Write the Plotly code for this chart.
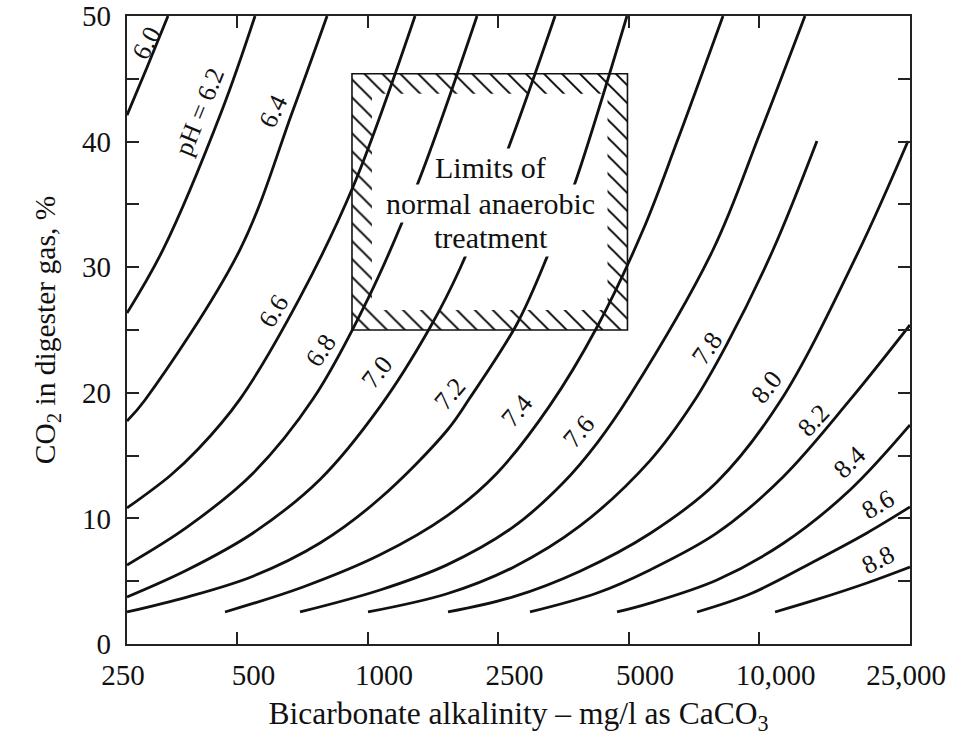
import plotly.graph_objects as go

# ---------------- data ----------------
# x values are positions along the alkalinity axis in tick units
# (tick marks at 1..5 = 500, 1000, 2500, 5000, 10,000 mg/l)
alk_tick_labels = ["250", "500", "1000", "2500", "5000", "10,000", "25,000"]
alk_label_pos = [0.157, 1.157, 2.157, 3.157, 4.157, 5.157, 6.157]
alk_tick_pos = [1, 2, 3, 4, 5]
co2_tick_marks = [0, 5, 10, 15, 20, 25, 30, 35, 40, 45, 50]
co2_tick_labels = [0, 10, 20, 30, 40, 50]

ph_values = ["6.0", "6.2", "6.4", "6.6", "6.8", "7.0", "7.2", "7.4",
             "7.6", "7.8", "8.0", "8.2", "8.4", "8.6", "8.8"]

alk_60 = [0.157, 0.310, 0.471]
co2_60 = [42.1, 45.9, 50.0]
alk_62 = [0.157, 0.433, 0.885, 1.138]
co2_62 = [26.35, 31.4, 42.5, 50.0]
alk_64 = [0.157, 0.295, 1.023, 1.429, 1.690]
co2_64 = [17.75, 19.43, 31.4, 42.5, 50.0]
alk_66 = [0.157, 0.487, 0.701, 1.023, 1.483, 1.889, 2.364]
co2_66 = [10.83, 13.4, 15.5, 19.5, 27.6, 36.4, 50.0]
alk_68 = [0.157, 0.617, 1.123, 1.582, 2.004, 2.379, 2.839]
co2_68 = [6.29, 9.3, 13.6, 19.5, 27.5, 36.5, 50.0]
alk_70 = [0.157, 0.617, 1.123, 1.636, 2.096, 2.479, 2.709, 3.069, 3.437]
co2_70 = [3.74, 5.89, 8.84, 13.1, 18.9, 25.2, 29.9, 39.2, 50.0]
alk_72 = [0.157, 0.617, 1.123, 1.636, 2.096, 2.609, 2.785, 3.146, 3.375, 3.590, 3.988]
co2_72 = [2.55, 3.74, 5.4, 8.04, 11.6, 17.0, 19.6, 25.5, 30.8, 36.7, 50.0]
alk_74 = [0.908, 1.506, 2.096, 2.609, 2.992, 3.398, 3.759, 4.111, 4.372, 4.724]
co2_74 = [2.55, 4.54, 7.1, 10.2, 13.6, 19.0, 25.24, 32.96, 40.0, 50.0]
alk_76 = [1.483, 2.096, 2.609, 3.115, 3.498, 3.759, 4.011, 4.647, 5.008, 5.352]
co2_76 = [2.55, 4.3, 6.3, 9.3, 12.82, 16.0, 19.8, 31.37, 40.68, 50.0]
alk_78 = [2.004, 2.609, 3.115, 3.628, 4.165, 4.494, 4.755, 5.107, 5.444]
co2_78 = [2.55, 4.0, 6.1, 9.4, 14.6, 19.2, 23.9, 31.37, 40.05]
alk_80 = [2.617, 3.115, 3.628, 4.165, 4.678, 5.161, 5.751, 6.142]
co2_80 = [2.55, 3.75, 5.8, 8.8, 12.9, 19.3, 31.0, 40.05]
alk_82 = [3.245, 3.759, 4.165, 4.678, 5.184, 5.697, 6.157]
co2_82 = [2.55, 4.06, 5.9, 8.84, 13.30, 19.43, 25.4]
alk_84 = [3.912, 4.165, 4.678, 5.184, 5.697, 6.157]
co2_84 = [2.55, 3.26, 5.10, 8.0, 12.26, 17.44]
alk_86 = [4.525, 4.931, 5.444, 5.827, 6.157]
co2_86 = [2.55, 3.98, 6.69, 8.84, 10.91]
alk_88 = [5.123, 5.444, 5.827, 6.157]
co2_88 = [2.55, 3.55, 4.86, 6.13]

# limits of normal anaerobic treatment (axis units)
box_alk = [1.881, 3.992]
box_co2 = [25.0, 45.4]

# ---------------- layout helpers ----------------
curves = [(alk_60, co2_60), (alk_62, co2_62), (alk_64, co2_64), (alk_66, co2_66),
          (alk_68, co2_68), (alk_70, co2_70), (alk_72, co2_72), (alk_74, co2_74),
          (alk_76, co2_76), (alk_78, co2_78), (alk_80, co2_80), (alk_82, co2_82),
          (alk_84, co2_84), (alk_86, co2_86), (alk_88, co2_88)]

# label placement (x, y, angle) for each pH curve
label_place = [(0.303, 47.85, -63), (0.716, 42.36, -68), (1.283, 42.44, -64),
               (1.276, 26.51, -58), (1.644, 23.33, -56), (2.080, 21.66, -52),
               (2.632, 19.98, -50), (3.145, 18.63, -50), (3.621, 16.88, -50),
               (4.609, 23.57, -55), (5.054, 20.46, -52), (5.414, 17.83, -47),
               (5.690, 14.49, -44), (5.912, 11.07, -30), (5.919, 6.69, -27)]

X_RANGE = [0.157, 6.157]
Y_RANGE = [0, 50]
INK = "#111111"
SERIF = "Liberation Serif"

fig = go.Figure()

# hatched band inside the box
x0, x1 = box_alk
y0, y1 = box_co2
bx, by = 0.153, 1.59
hx = [x0, x0 + bx, x0 + bx, x0, x0, None,
      x1 - bx, x1, x1, x1 - bx, x1 - bx, None,
      x0 + bx, x1 - bx, x1 - bx, x0 + bx, x0 + bx, None,
      x0 + bx, x1 - bx, x1 - bx, x0 + bx, x0 + bx]
hy = [y0, y0, y1, y1, y0, None,
      y0, y0, y1, y1, y0, None,
      y1 - by, y1 - by, y1, y1, y1 - by, None,
      y0, y0, y0 + by, y0 + by, y0]
fig.add_trace(go.Scatter(
    x=hx, y=hy, mode="lines", fill="toself",
    line=dict(width=0, color="rgba(0,0,0,0)"),
    fillcolor="rgba(0,0,0,0)",
    fillpattern=dict(shape="\\", size=12.7, solidity=0.15,
                     fgcolor="#000000", fgopacity=1),
    hoverinfo="skip", showlegend=False))

for (xs, ys), ph in zip(curves, ph_values):
    fig.add_trace(go.Scatter(
        x=xs, y=ys, mode="lines", name="pH " + ph,
        line=dict(color=INK, width=2.8, shape="spline", smoothing=1.0),
        showlegend=False))

# empty trace that carries the label axes (x2 / y2)
fig.add_trace(go.Scatter(x=[], y=[], xaxis="x2", yaxis="y2",
                         hoverinfo="skip", showlegend=False))

annotations = []
for ph, (lx, ly, ang) in zip(ph_values, label_place):
    txt = "pH = " + ph if ph == "6.2" else ph
    annotations.append(dict(x=lx, y=ly, xref="x", yref="y", text=txt,
                            showarrow=False, textangle=ang,
                            font=dict(family=SERIF, size=26, color=INK)))

box_text_x = 2.946
for line_txt, ly, w in [("Limits of", 37.9, None),
                        ("normal anaerobic", 35.1, None),
                        ("treatment", 32.4, 140)]:
    a = dict(x=box_text_x, y=ly, xref="x", yref="y", text=line_txt,
             showarrow=False, bgcolor="white", borderpad=2,
             font=dict(family=SERIF, size=30, color=INK))
    if w:
        a["width"] = w
    annotations.append(a)

fig.update_layout(
    width=957, height=736,
    margin=dict(l=127, r=47, t=16, b=92),
    paper_bgcolor="white", plot_bgcolor="white",
    font=dict(family=SERIF, color=INK),
    annotations=annotations,
    shapes=[dict(type="rect", xref="x", yref="y", x0=x0, x1=x1, y0=y0, y1=y1,
                 line=dict(color=INK, width=1.6), fillcolor="rgba(0,0,0,0)")],
    xaxis=dict(
        range=X_RANGE, showgrid=False, zeroline=False,
        showline=True, linecolor="#222", linewidth=2, mirror="ticks",
        tickmode="array", tickvals=alk_tick_pos, showticklabels=False,
        ticks="inside", ticklen=12, tickwidth=1.5, tickcolor="#222",
        automargin=False),
    yaxis=dict(
        range=Y_RANGE, showgrid=False, zeroline=False,
        showline=True, linecolor="#222", linewidth=2, mirror="ticks",
        tickmode="array", tickvals=co2_tick_marks, showticklabels=False,
        ticks="inside", ticklen=12, tickwidth=1.5, tickcolor="#222",
        automargin=False),
    xaxis2=dict(
        range=X_RANGE, overlaying="x", anchor="y2", side="bottom",
        showgrid=False, zeroline=False, showline=False, ticks="",
        tickmode="array", tickvals=alk_label_pos, ticktext=alk_tick_labels,
        ticklabelshift=-4, ticklabelstandoff=11, ticklabeloverflow="allow",
        tickfont=dict(family=SERIF, size=29, color=INK),
        title=dict(text="Bicarbonate alkalinity \u2013 mg/l as CaCO<sub>3</sub>",
                   font=dict(family=SERIF, size=31.5, color=INK), standoff=21),
        automargin=False),
    yaxis2=dict(
        range=Y_RANGE, overlaying="y", anchor="x2", side="left",
        showgrid=False, zeroline=False, showline=False, ticks="",
        tickmode="array", tickvals=co2_tick_labels,
        ticklabelstandoff=15, ticklabeloverflow="allow",
        tickfont=dict(family=SERIF, size=29, color=INK),
        title=dict(text="CO<sub>2</sub> in digester gas, %",
                   font=dict(family=SERIF, size=29.5, color=INK), standoff=17),
        automargin=False),
)

# place the figure at the page origin (no default body margin), no toolbar
fig.write_html("out.html", config={"displayModeBar": False},
               post_script="document.body.style.margin='0';")
